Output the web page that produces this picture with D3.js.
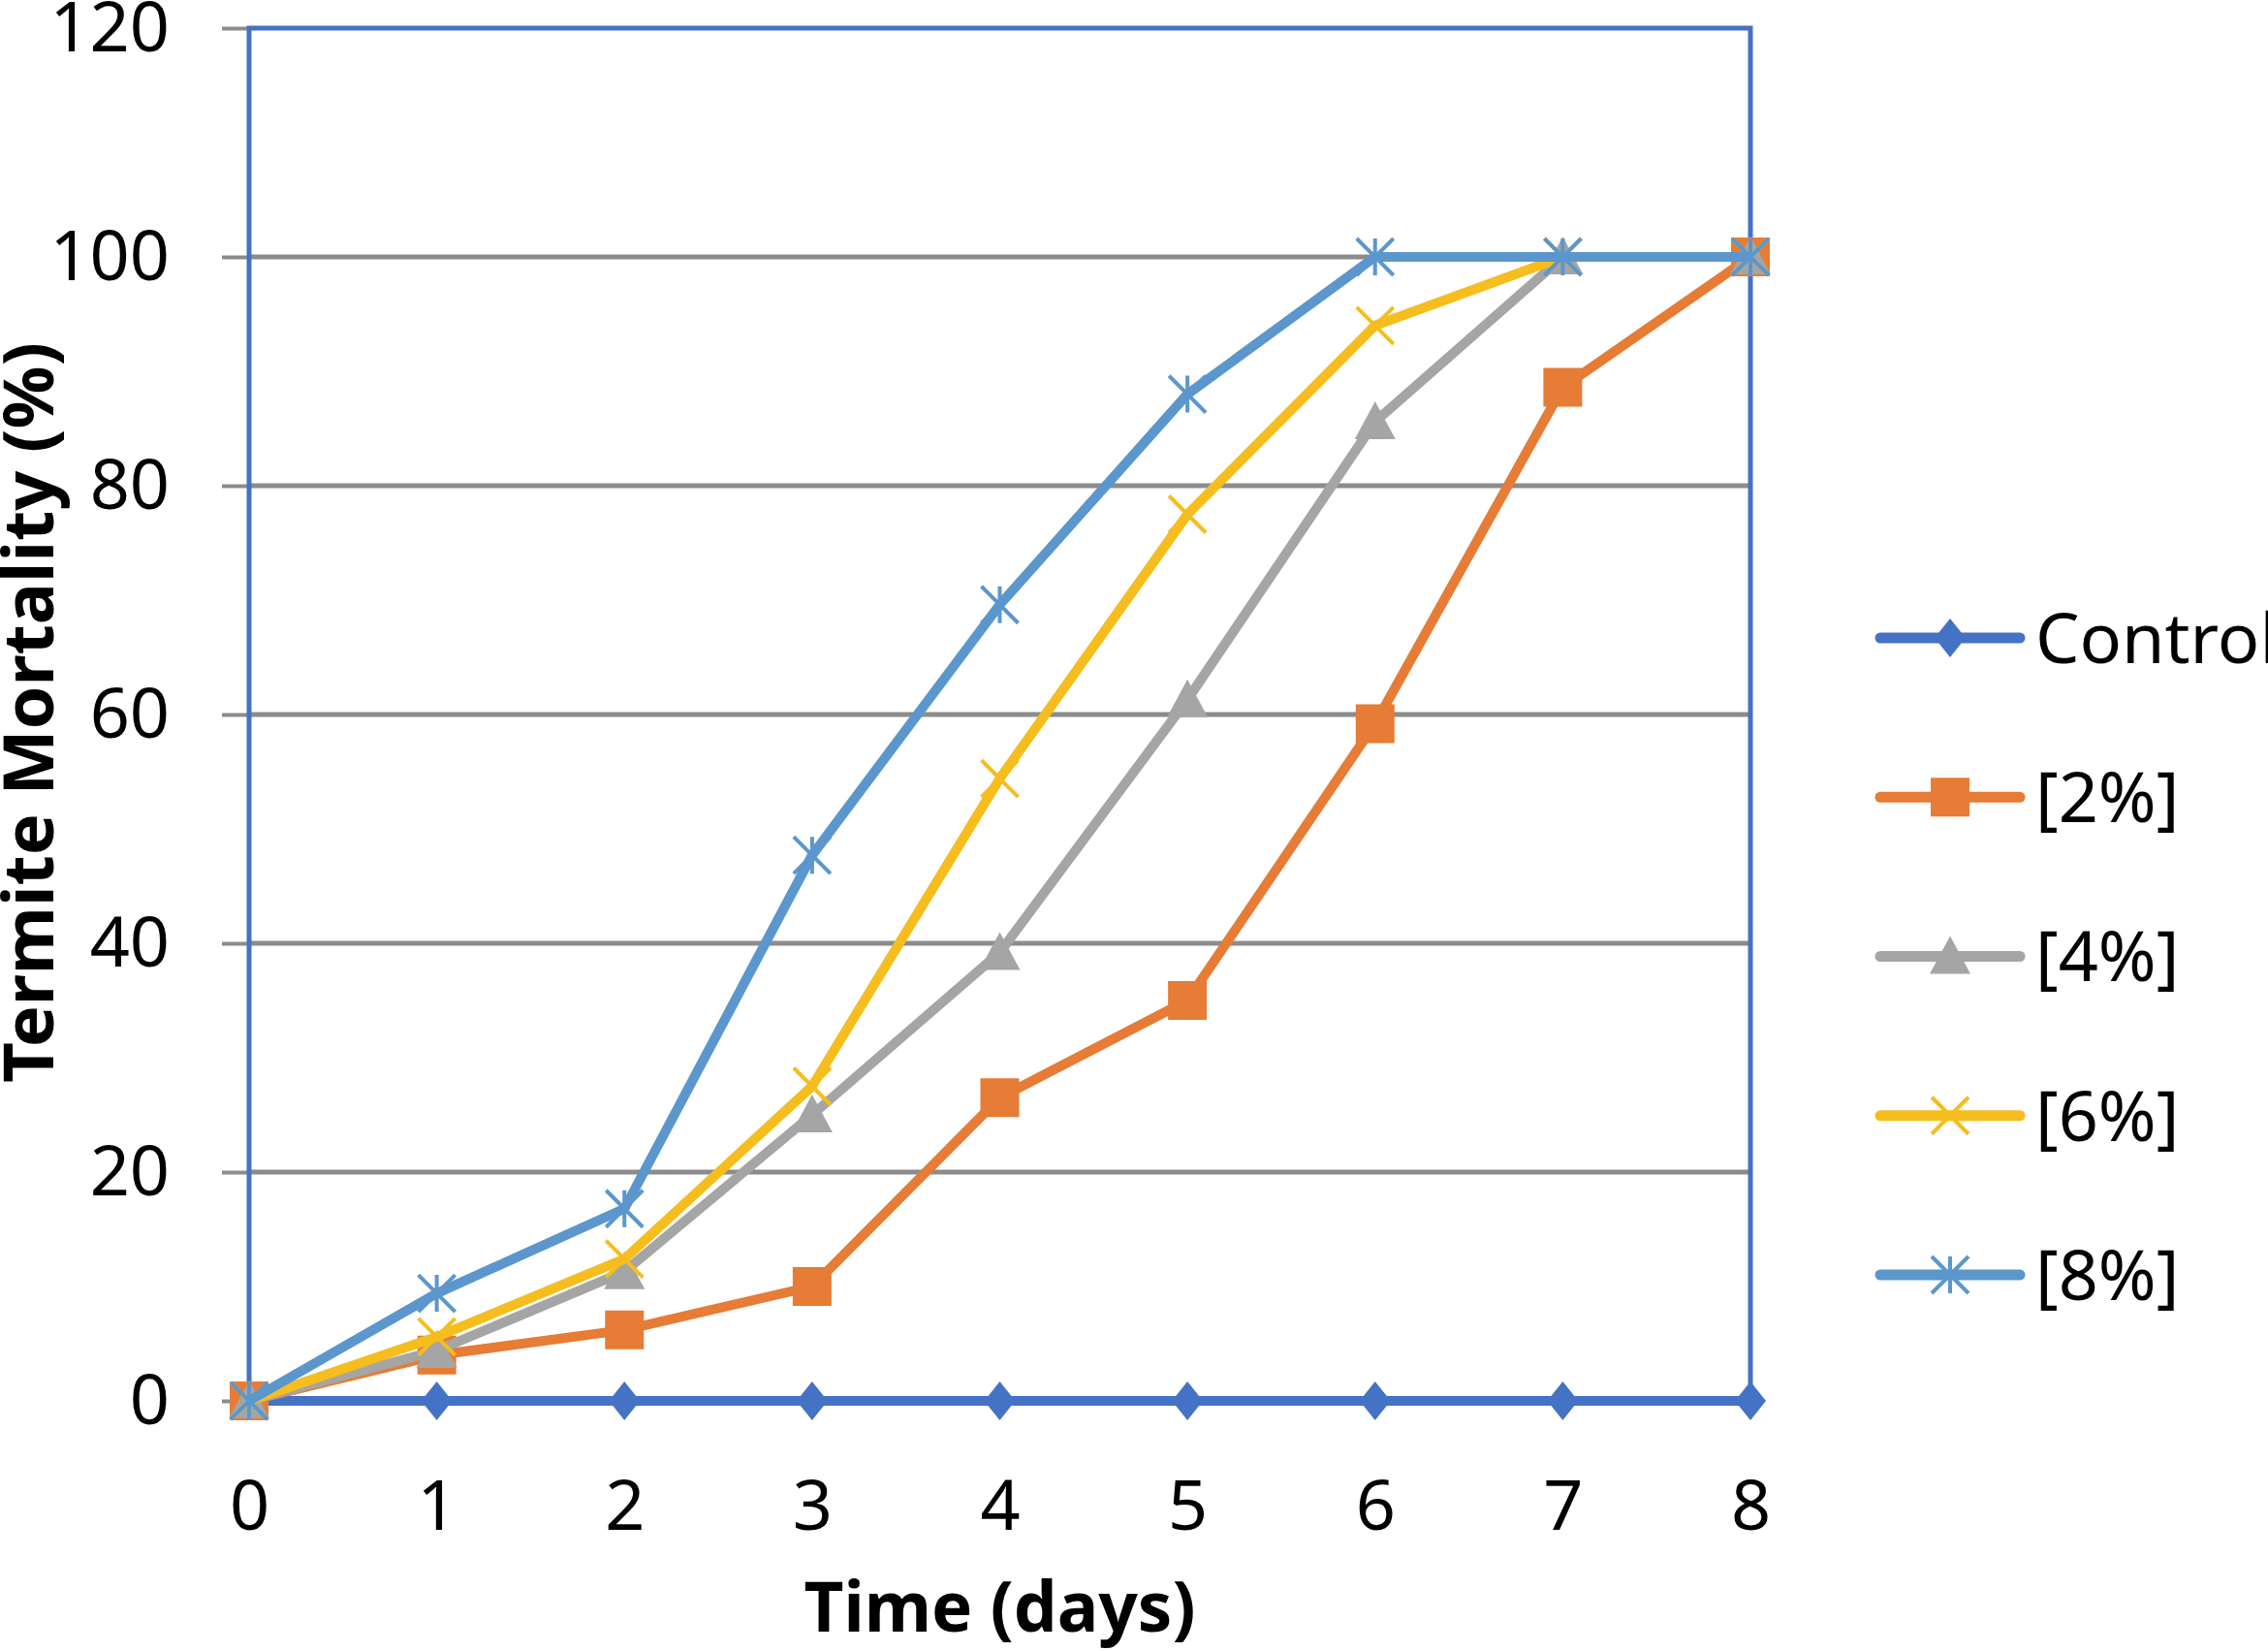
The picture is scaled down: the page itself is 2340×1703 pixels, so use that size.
<!DOCTYPE html>
<html>
<head>
<meta charset="utf-8">
<script src="https://cdn.jsdelivr.net/npm/d3@7"></script>
<style>
  body { margin: 0; background: #fff; }
  svg { display: block; font-family: "Noto Sans", "Open Sans", sans-serif; }
</style>
</head>
<body>
<div id="chart"></div>
<script>
// data
var days = [0, 1, 2, 3, 4, 5, 6, 7, 8];
var control = [0, 0, 0, 0, 0, 0, 0, 0, 0];
var conc2 = [0, 4, 6.2, 10, 26.5, 35, 59.2, 88.6, 100];
var conc4 = [0, 4.4, 11.3, 25, 39.2, 61.3, 85.6, 100, 100];
var conc6 = [0, 5.6, 12.4, 27.5, 54.4, 77.5, 94, 100, 100];
var conc8 = [0, 9.4, 16.8, 47.7, 69.6, 88, 100, 100, 100];
var seriesNames = ["Control", "[2%]", "[4%]", "[6%]", "[8%]"];
var yTicks = [0, 20, 40, 60, 80, 100, 120];

var series = [
    { name: seriesNames[0], values: control, color: "#4472C4", marker: "diamond" },
    { name: seriesNames[1], values: conc2, color: "#E67C35", marker: "square" },
    { name: seriesNames[2], values: conc4, color: "#A5A5A5", marker: "triangle" },
    { name: seriesNames[3], values: conc6, color: "#F6BD1E", marker: "x" },
    { name: seriesNames[4], values: conc8, color: "#5B97CD", marker: "star" }
];

var W = 2340, H = 1703;
// note: "top" is taken by window.top, so use plot* names
var plotLeft = 257, plotRight = 1806, plotTop = 29, plotBottom = 1445;

var x = d3.scaleLinear().domain([0, 8]).range([plotLeft, plotRight]);
var y = d3.scaleLinear().domain([0, 120]).range([plotBottom, plotTop]);

var svg = d3.select("#chart").append("svg")
    .attr("width", W).attr("height", H);

// gridlines
svg.append("g").selectAll("line")
    .data(yTicks.filter(function(t) { return t > 0 && t < 120; }))
    .enter().append("line")
    .attr("x1", plotLeft).attr("x2", plotRight)
    .attr("y1", function(d) { return y(d); })
    .attr("y2", function(d) { return y(d); })
    .attr("stroke", "#8c8c8c").attr("stroke-width", 5);

// y axis
var yAxis = svg.append("g")
    .attr("transform", "translate(" + plotLeft + ",0)")
    .call(d3.axisLeft(y).tickValues(yTicks).tickSize(28).tickPadding(54));
yAxis.select(".domain").remove();
yAxis.selectAll(".tick line").attr("stroke", "#8c8c8c").attr("stroke-width", 4);
yAxis.selectAll(".tick text")
    .attr("font-size", 72).attr("fill", "#000")
    .attr("font-family", "Noto Sans, sans-serif");

// x axis
var xAxis = svg.append("g")
    .attr("transform", "translate(0," + plotBottom + ")")
    .call(d3.axisBottom(x).tickValues(days).tickSize(12).tickPadding(70));
xAxis.select(".domain").attr("stroke", "#8c8c8c").attr("stroke-width", 4);
xAxis.selectAll(".tick line").attr("stroke", "#8c8c8c").attr("stroke-width", 4);
xAxis.selectAll(".tick text")
    .attr("font-size", 72).attr("fill", "#000")
    .attr("font-family", "Noto Sans, sans-serif");

// plot border (blue frame in the original)
svg.append("rect")
    .attr("x", plotLeft).attr("y", plotTop)
    .attr("width", plotRight - plotLeft).attr("height", plotBottom - plotTop)
    .attr("fill", "none").attr("stroke", "#4472C4").attr("stroke-width", 5);

// marker shapes, relative to the point
function markerPath(type) {
    var p = d3.path();
    if (type === "diamond") {
        p.moveTo(0, -20); p.lineTo(16, 0); p.lineTo(0, 20); p.lineTo(-16, 0); p.closePath();
    } else if (type === "square") {
        p.rect(-20, -20, 40, 40);
    } else if (type === "triangle") {
        p.moveTo(0, -21); p.lineTo(21, 18); p.lineTo(-21, 18); p.closePath();
    } else if (type === "x") {
        p.moveTo(-19, -19); p.lineTo(19, 19); p.moveTo(19, -19); p.lineTo(-19, 19);
    } else if (type === "star") {
        p.moveTo(-19, -19); p.lineTo(19, 19); p.moveTo(19, -19); p.lineTo(-19, 19);
        p.moveTo(0, -19); p.lineTo(0, 19);
    }
    return p.toString();
}
function isStroked(type) { return type === "x" || type === "star"; }

var line = d3.line()
    .x(function(d, i) { return x(days[i]); })
    .y(function(d) { return y(d); });

series.forEach(function(s) {
    var g = svg.append("g");
    g.append("path")
        .attr("d", line(s.values))
        .attr("fill", "none")
        .attr("stroke", s.color)
        .attr("stroke-width", 10)
        .attr("stroke-linejoin", "round");
    g.selectAll("path.mk").data(s.values).enter().append("path")
        .attr("class", "mk")
        .attr("transform", function(d, i) { return "translate(" + x(days[i]) + "," + y(d) + ")"; })
        .attr("d", markerPath(s.marker))
        .attr("fill", isStroked(s.marker) ? "none" : s.color)
        .attr("stroke", isStroked(s.marker) ? s.color : "none")
        .attr("stroke-width", 4);
});

// legend
var legend = svg.append("g");
var legY = d3.scalePoint().domain(seriesNames).range([658, 1315]);
series.forEach(function(s) {
    var ly = legY(s.name);
    legend.append("line")
        .attr("x1", 1940).attr("x2", 2084)
        .attr("y1", ly).attr("y2", ly)
        .attr("stroke", s.color).attr("stroke-width", 11)
        .attr("stroke-linecap", "round");
    legend.append("path")
        .attr("transform", "translate(2012," + ly + ")")
        .attr("d", markerPath(s.marker))
        .attr("fill", isStroked(s.marker) ? "none" : s.color)
        .attr("stroke", isStroked(s.marker) ? s.color : "none")
        .attr("stroke-width", 4);
    legend.append("text")
        .attr("x", 2100).attr("y", ly)
        .attr("dy", "0.36em")
        .attr("font-size", 72)
        .text(s.name);
});

// axis titles
svg.append("text")
    .attr("x", (plotLeft + plotRight) / 2).attr("y", 1683)
    .attr("text-anchor", "middle")
    .attr("font-size", 71).attr("font-weight", "bold")
    .text("Time (days)");

svg.append("text")
    .attr("transform", "translate(55," + 735 + ") rotate(-90)")
    .attr("text-anchor", "middle")
    .attr("font-size", 72).attr("font-weight", "bold")
    .text("Termite Mortality (%)");
</script>
</body>
</html>
